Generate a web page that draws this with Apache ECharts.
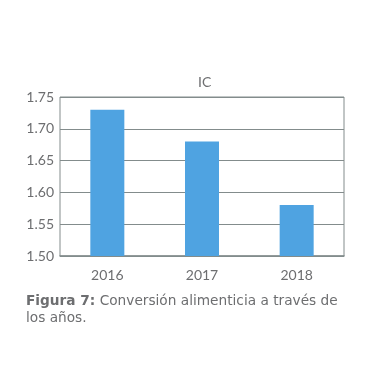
<!DOCTYPE html>
<html><head><meta charset="utf-8">
<script src="https://cdn.jsdelivr.net/npm/echarts@6/dist/echarts.min.js"></script>
<style>html,body{margin:0;padding:0;background:#fff}#c{width:381px;height:382px}</style>
</head><body><div id="c"></div>
<script>
const categories = ['2016', '2017', '2018'];
const values = [1.73, 1.68, 1.58];
const title = 'IC';
const captionBold = 'Figura 7:';
const captionRest = ' Conversión alimenticia a través de';
const captionLine2 = 'los años.';

const txt = '#6d6e70';
const lineCol = '#838c8c';
const chart = echarts.init(document.getElementById('c'));
chart.setOption({
  animation: false,
  title: { text: title, left: 193, top: 70, textStyle: { color: txt, fontSize: 14, fontWeight: 'normal', fontFamily: 'Lato' } },
  grid: { left: 60, right: 37, top: 97, bottom: 126, show: true, borderColor: lineCol, borderWidth: 1 },
  xAxis: {
    type: 'category', data: categories,
    axisLine: { lineStyle: { color: lineCol, width: 1.5 } },
    axisTick: { show: false },
    axisLabel: { color: txt, fontSize: 14, margin: 12, fontFamily: 'Lato' }
  },
  yAxis: {
    type: 'value', min: 1.5, max: 1.75, interval: 0.05,
    axisLine: { show: false }, axisTick: { show: false },
    splitLine: { lineStyle: { color: lineCol, width: 1 } },
    axisLabel: { color: txt, fontSize: 14, margin: 6, fontFamily: 'Lato', formatter: v => v.toFixed(2) }
  },
  series: [{ type: 'bar', data: values, barWidth: 34, itemStyle: { color: '#4fa3e1' } }],
  graphic: [
    { type: 'text', left: 26, top: 294, style: { text: '{b|' + captionBold + '}' + captionRest, fill: txt, font: '13.7px "DejaVu Sans"', rich: { b: { fontWeight: 'bold', fontSize: 13.7, fontFamily: 'DejaVu Sans', fill: txt } } } },
    { type: 'text', left: 26, top: 311, style: { text: captionLine2, fill: txt, font: '13.7px "DejaVu Sans"' } }
  ]
});
</script></body></html>
